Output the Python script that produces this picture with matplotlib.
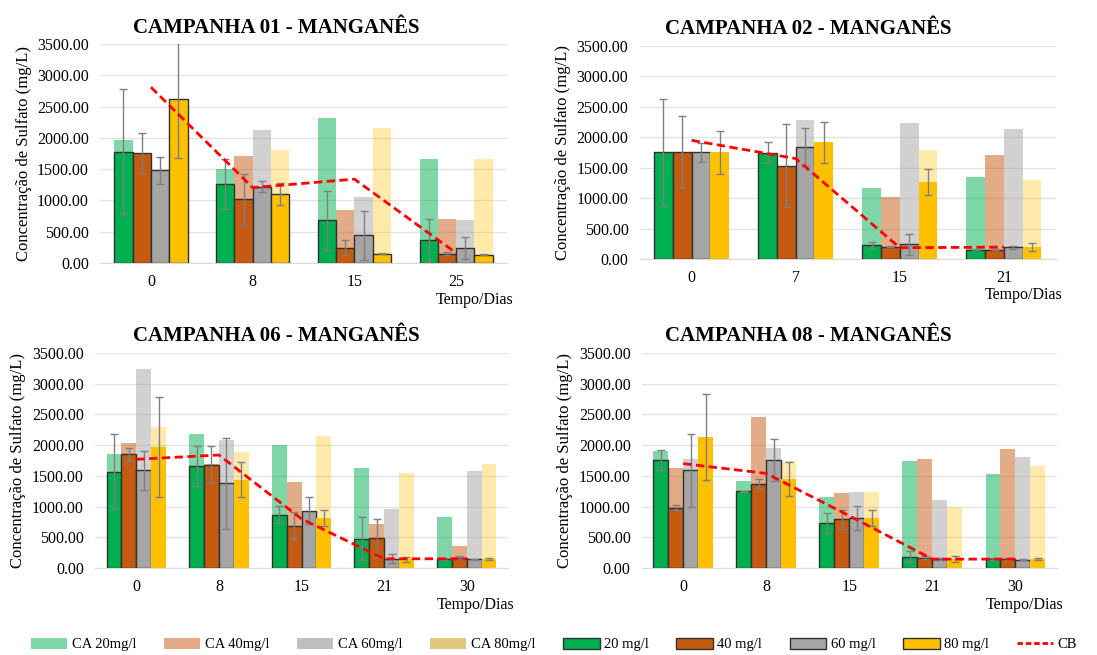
import numpy as np
import matplotlib.pyplot as plt
from matplotlib.patches import Patch
from matplotlib.lines import Line2D

plt.rcParams['font.family'] = ['Liberation Serif', 'DejaVu Serif']

labels_ca = ['CA 20mg/l', 'CA 40mg/l', 'CA 60mg/l', 'CA 80mg/l']
labels_bar = ['20 mg/l', '40 mg/l', '60 mg/l', '80 mg/l']
colors = ['#00b050', '#c55a11', '#a5a5a5', '#ffc000']
ca_alpha = [0.5, 0.5, 0.5, 0.33]
ca_legend = ['#80d8a8', '#e2ab86', '#bfbfbf', '#e0c87f']

# campanha 01
c01_days = ['0', '8', '15', '25']
c01_ca = [[1970, 1500, 2320, 1665],
          [1760, 1710, 845, 710],
          [1480, 2125, 1060, 685],
          [2620, 1800, 2160, 1665]]
c01_bar = [[1780, 1265, 680, 360],
           [1760, 1015, 245, 150],
           [1480, 1220, 445, 245],
           [2620, 1105, 150, 135]]
c01_err = [[995, 395, 470, 340],
           [325, 415, 115, 30],
           [210, 85, 390, 175],
           [935, 175, 5, 5]]
c01_cb = [2810, 1205, 1340, 160]

# campanha 02
c02_days = ['0', '7', '15', '21']
c02_ca = [[1755, 1745, 1170, 1340],
          [1755, 1535, 1025, 1710],
          [1755, 2285, 2240, 2135],
          [1755, 1915, 1795, 1300]]
c02_bar = [[1755, 1745, 230, 150],
           [1755, 1535, 200, 150],
           [1755, 1845, 240, 190],
           [1755, 1915, 1265, 195]]
c02_err = [[880, 175, 50, 10],
           [590, 685, 10, 10],
           [155, 315, 175, 30],
           [355, 340, 220, 60]]
c02_cb = [1950, 1650, 185, 195]

# campanha 06
c06_days = ['0', '8', '15', '21', '30']
c06_ca = [[1855, 2180, 2000, 1630, 825],
          [2035, 1700, 1395, 710, 365],
          [3245, 2080, 935, 965, 1580],
          [2290, 1895, 2150, 1555, 1690]]
c06_bar = [[1570, 1660, 870, 480, 150],
           [1850, 1680, 690, 485, 170],
           [1590, 1380, 935, 150, 140],
           [1970, 1440, 815, 145, 145]]
c06_err = [[605, 320, 145, 345, 20],
           [100, 300, 215, 310, 30],
           [315, 740, 225, 75, 10],
           [810, 280, 130, 40, 10]]
c06_cb = [1770, 1840, 800, 150, 150]

# campanha 08
c08_days = ['0', '8', '15', '21', '30']
c08_ca = [[1905, 1410, 1155, 1740, 1535],
          [1630, 2465, 1225, 1780, 1930],
          [1770, 1955, 1245, 1105, 1805],
          [2135, 1740, 1245, 1000, 1660]]
c08_bar = [[1755, 1250, 735, 185, 145],
           [985, 1375, 790, 165, 145],
           [1590, 1755, 810, 145, 135],
           [2135, 1450, 815, 145, 145]]
c08_err = [[165, 10, 165, 95, 10],
           [40, 70, 160, 25, 10],
           [590, 345, 195, 10, 10],
           [705, 270, 135, 50, 15]]
c08_cb = [1700, 1540, 850, 145, 145]

# title, days, ca, bars, errs, cb, axes rect, title x, title y, yellow edge
panels = [
    ('CAMPANHA 01 - MANGANÊS', c01_days, c01_ca, c01_bar, c01_err, c01_cb,
     [0.0912, 0.5985, 0.371, 0.3343], 0.252, 0.950, True),
    ('CAMPANHA 02 - MANGANÊS', c02_days, c02_ca, c02_bar, c02_err, c02_cb,
     [0.583, 0.6046, 0.3796, 0.3252], 0.737, 0.948, False),
    ('CAMPANHA 06 - MANGANÊS', c06_days, c06_ca, c06_bar, c06_err, c06_cb,
     [0.0866, 0.1328, 0.3765, 0.3282], 0.252, 0.479, False),
    ('CAMPANHA 08 - MANGANÊS', c08_days, c08_ca, c08_bar, c08_err, c08_cb,
     [0.585, 0.1328, 0.3785, 0.3282], 0.737, 0.479, False),
]

fig = plt.figure(figsize=(10.97, 6.55), dpi=100)
w = 0.18
for title, days, ca, bars, errs, cb, pos, tx, ty, yellow_edge in panels:
    ax = fig.add_axes(pos)
    x = np.arange(len(days))
    for i in range(4):
        xi = x + (i - 1.5) * w
        ax.bar(xi, ca[i], width=w, color=colors[i], alpha=ca_alpha[i],
               linewidth=0, zorder=2)
    for i in range(4):
        xi = x + (i - 1.5) * w
        ec = '#303030' if (i < 3 or yellow_edge) else 'none'
        ax.bar(xi, bars[i], width=w, color=colors[i], edgecolor=ec,
               linewidth=1.0, zorder=3)
        ax.errorbar(xi, bars[i], yerr=errs[i], fmt='none', ecolor='#7f7f7f',
                    elinewidth=1.0, capsize=3, capthick=1.0, zorder=4)
    ax.plot(x, cb, color='#ff0000', linestyle=(0, (3, 1.6)), linewidth=2,
            zorder=5)
    ax.set_ylim(0, 3500)
    ax.set_xlim(-0.5, len(days) - 0.5)
    ax.set_yticks(np.arange(0, 3501, 500))
    ax.set_yticklabels(['%.2f' % v for v in np.arange(0, 3501, 500)],
                       fontsize=11.5)
    ax.set_xticks(x)
    ax.set_xticklabels(days, fontsize=11.5)
    ax.tick_params(length=0, pad=8)
    ax.grid(axis='y', color='#e3e3e3', linewidth=1, zorder=0)
    ax.set_axisbelow(True)
    for s in ['top', 'right', 'left']:
        ax.spines[s].set_visible(False)
    ax.spines['bottom'].set_color('#d9d9d9')
    ax.set_ylabel('Concentração de Sulfato (mg/L)', fontsize=12, labelpad=4)
    ax.text(1.015, -0.17, 'Tempo/Dias', transform=ax.transAxes, ha='right',
            va='center', fontsize=11.5)
    fig.text(tx, ty, title, ha='center', va='baseline',
             fontsize=15, fontweight='bold')

handles = []
for i in range(4):
    handles.append(Patch(facecolor=ca_legend[i], linewidth=0,
                         label=labels_ca[i]))
for i in range(4):
    handles.append(Patch(facecolor=colors[i], edgecolor='#303030',
                         linewidth=1, label=labels_bar[i]))
handles.append(Line2D([0], [0], color='#ff0000', linestyle=(0, (2, 1)),
                      linewidth=2, label='CB'))
fig.legend(handles=handles, loc='center', bbox_to_anchor=(0.505, 0.016),
           ncol=9, frameon=False, fontsize=10.5, handlelength=2.5,
           handleheight=0.8, columnspacing=1.9, handletextpad=0.3)

fig.savefig('out.png', dpi=100)
